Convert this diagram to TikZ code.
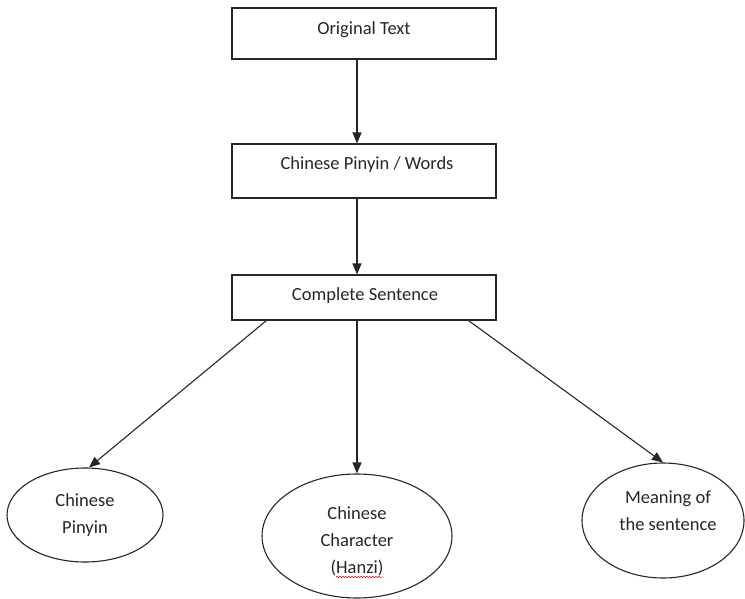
\documentclass[tikz,border=0pt]{standalone}
\usepackage{fontspec}
\setmainfont{Carlito}
\usetikzlibrary{arrows.meta,shapes.geometric,calc,decorations.pathmorphing}
\begin{document}
\begin{tikzpicture}[x=1pt,y=1pt,
  line/.style={draw=black!85,line width=1.1pt},
  boxnode/.style={line, rectangle, minimum width=264pt, inner sep=0pt},
  ellnode/.style={line, ellipse, inner sep=0pt},
  lbl/.style={font=\fontsize{18.5}{27}\selectfont, text=black!85, align=center, inner sep=0pt},
  arr/.style={line, -{Triangle[length=11pt,width=9pt]}}]
\useasboundingbox (0,0) rectangle (745,-599);
% boxes
\node[boxnode, minimum height=51pt] (b1) at (364,-33.5) {};
\node[boxnode, minimum height=54pt] (b2) at (364,-171) {};
\node[boxnode, minimum height=45pt] (b3) at (364,-297.5) {};
\node[lbl, anchor=base] (t1) at (364,-35) {Original Text};
\node[lbl, anchor=base] (t2) at (367,-169.3) {Chinese Pinyin / Words};
\node[lbl, anchor=base] (t3) at (365,-300) {Complete Sentence};
% ellipses
\node[ellnode, minimum width=156pt, minimum height=94pt] (e1) at (85,-515) {};
\node[ellnode, minimum width=190pt, minimum height=124pt] (e2) at (357,-536) {};
\node[ellnode, minimum width=162pt, minimum height=115pt] (e3) at (663,-520.5) {};
\node[lbl] (te1) at (85,-515) {Chinese\\Pinyin};
\node[lbl] (te2) at (357,-541) {Chinese\\Character\\(Hanzi)};
\node[lbl] (te3) at (668,-511) {Meaning of\\the sentence};
\draw[red, line width=0.5pt, decorate, decoration={snake, segment length=3pt, amplitude=0.8pt}] (336,-577) -- (382,-577);
% connectors
\draw[arr] (b1.south -| e2.north) -- (b2.north -| e2.north);
\draw[arr] (b2.south -| e2.north) -- (b3.north -| e2.north);
\draw[arr] ($(b3.south west)+(35,0)$) -- ($(e1.north)+(4,0)$);
\draw[arr] (b3.south -| e2.north) -- (e2.north);
\draw[arr] ($(b3.south east)+(-28,0)$) -- (e3.north);
\end{tikzpicture}
\end{document}
